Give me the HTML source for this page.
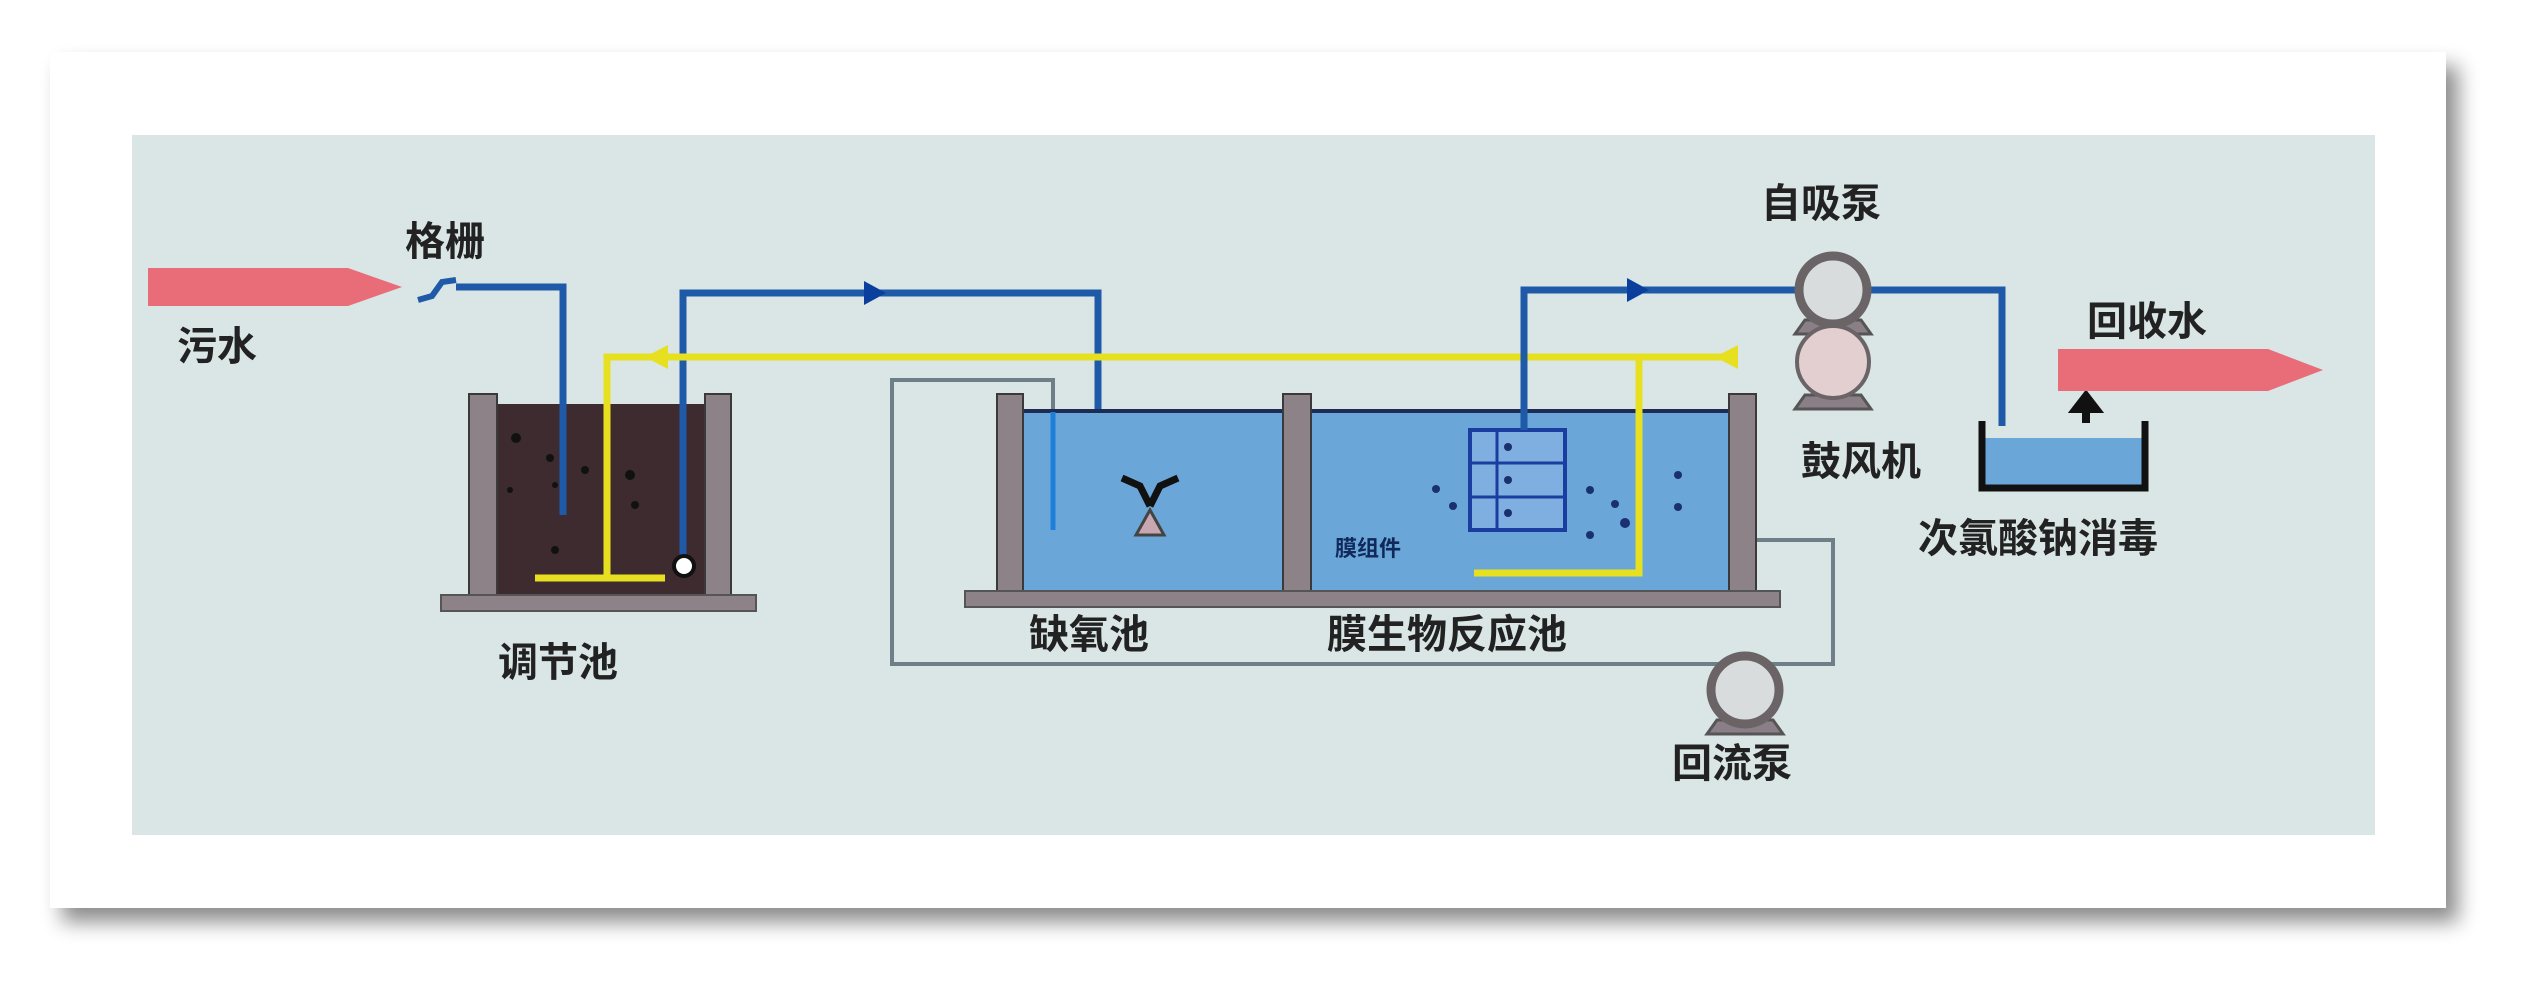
<!DOCTYPE html>
<html><head><meta charset="utf-8"><style>
html,body{margin:0;padding:0;background:#fff;}
svg{display:block}
text{font-family:"Liberation Sans","Noto Sans CJK SC",sans-serif;font-weight:bold;fill:#222}
</style></head><body>
<svg width="2522" height="988" viewBox="0 0 2522 988" xmlns="http://www.w3.org/2000/svg">
<defs>
<filter id="sh" x="-5%" y="-5%" width="110%" height="115%"><feDropShadow dx="12" dy="14" stdDeviation="10" flood-color="#000" flood-opacity="0.45"/></filter>
<g id="pump"><path d="M-28 30 L28 30 L38 44 L-38 44 Z" fill="#8a7f86" stroke="#555" stroke-width="3"/><circle r="34" fill="#d9dcdc" stroke="#6b6467" stroke-width="9"/></g>
</defs>
<rect width="2522" height="988" fill="#fff"/>
<rect x="50" y="52" width="2396" height="856" fill="#fff" filter="url(#sh)"/>
<rect x="132" y="135" width="2243" height="700" fill="#d9e6e5"/>

<path d="M148 268 L348 268 L402 287 L348 306 L148 306 Z" fill="#e86d78"/>
<text x="177" y="360" font-size="40">污水</text>
<text x="405" y="255" font-size="40">格栅</text>
<path d="M418 300 L432 296 L442 282 L456 280" stroke="#1f5aa8" stroke-width="6" fill="none"/>

<rect x="497" y="404" width="208" height="191" fill="#3d2b30"/>
<g fill="#111"><circle cx="516" cy="438" r="5"/><circle cx="550" cy="458" r="4"/><circle cx="585" cy="470" r="4"/><circle cx="630" cy="475" r="5"/><circle cx="635" cy="505" r="4"/><circle cx="510" cy="490" r="3"/><circle cx="555" cy="485" r="3"/><circle cx="555" cy="550" r="4"/></g>
<rect x="469" y="394" width="28" height="201" fill="#8e8289" stroke="#3a3a3a" stroke-width="2"/>
<rect x="705" y="394" width="26" height="201" fill="#8e8289" stroke="#3a3a3a" stroke-width="2"/>
<rect x="441" y="595" width="315" height="16" fill="#8e8289" stroke="#555" stroke-width="2"/>
<text x="498" y="676" font-size="40">调节池</text>

<path d="M456 287 L563 287 L563 515" stroke="#1f5aa8" stroke-width="7" fill="none"/>
<path d="M683 560 L683 293 L1098 293 L1098 513" stroke="#1f5aa8" stroke-width="7" fill="none"/>
<circle cx="684" cy="566" r="10" fill="#fff" stroke="#111" stroke-width="4"/>
<path d="M864 281 L886 293 L864 305 Z" fill="#0a3f9e"/>

<path d="M1736 357 L607 357 L607 576" stroke="#e6e020" stroke-width="7" fill="none"/>
<path d="M535 578 L665 578" stroke="#e6e020" stroke-width="7"/>
<path d="M668 345 L645 357 L668 369 Z" fill="#e6e020"/>
<path d="M1738 345 L1715 357 L1738 369 Z" fill="#e6e020"/>

<path d="M1053 530 L1053 380 L892 380 L892 664 L1833 664 L1833 540 L1756 540" stroke="#6f7f87" stroke-width="4" fill="none"/>

<rect x="1023" y="411" width="706" height="180" fill="#6aa6d8"/>
<path d="M1023 411 L1729 411" stroke="#1c2c55" stroke-width="4"/>
<path d="M1639 357 L1639 573 L1474 573" stroke="#e6e020" stroke-width="7" fill="none"/>
<rect x="997" y="394" width="26" height="197" fill="#8e8289" stroke="#3a3a3a" stroke-width="2"/>
<rect x="1283" y="394" width="28" height="197" fill="#8e8289" stroke="#3a3a3a" stroke-width="2"/>
<rect x="1729" y="394" width="27" height="197" fill="#8e8289" stroke="#3a3a3a" stroke-width="2"/>
<rect x="965" y="591" width="815" height="16" fill="#8e8289" stroke="#555" stroke-width="2"/>
<path d="M1053 412 L1053 530" stroke="#1f7fd8" stroke-width="5"/>
<path d="M1122 478 L1140 486 L1150 506 M1178 478 L1160 486 L1150 506" stroke="#111" stroke-width="7" fill="none"/>
<path d="M1136 535 L1150 510 L1164 535 Z" fill="#c9a7b0" stroke="#444" stroke-width="3"/>
<rect x="1470" y="430" width="95" height="100" fill="#7faee0" stroke="#1a3ea0" stroke-width="4"/>
<path d="M1497 430 L1497 530 M1470 463 L1565 463 M1470 497 L1565 497" stroke="#1a3ea0" stroke-width="3"/>
<g fill="#1a3070"><circle cx="1508" cy="447" r="4"/><circle cx="1508" cy="480" r="4"/><circle cx="1508" cy="513" r="4"/><circle cx="1436" cy="489" r="4"/><circle cx="1453" cy="506" r="4"/><circle cx="1590" cy="490" r="4"/><circle cx="1615" cy="504" r="4"/><circle cx="1625" cy="523" r="5"/><circle cx="1678" cy="475" r="4"/><circle cx="1678" cy="507" r="4"/><circle cx="1590" cy="535" r="4"/></g>
<text x="1335" y="556" font-size="22" style="fill:#10285a">膜组件</text>
<text x="1029" y="648" font-size="40">缺氧池</text>
<text x="1327" y="648" font-size="40">膜生物反应池</text>

<path d="M1524 430 L1524 290 L2002 290 L2002 426" stroke="#1f5aa8" stroke-width="7" fill="none"/>
<path d="M1627 278 L1649 290 L1627 302 Z" fill="#0a3f9e"/>
<use href="#pump" x="1833" y="290"/>
<text x="1761" y="217" font-size="40">自吸泵</text>
<path d="M1805 395 L1861 395 L1871 409 L1795 409 Z" fill="#8a7f86" stroke="#555" stroke-width="3"/>
<circle cx="1833" cy="362" r="36" fill="#e3cfcf" stroke="#6b6467" stroke-width="4"/>
<text x="1801" y="475" font-size="40">鼓风机</text>

<rect x="1982" y="438" width="163" height="50" fill="#6aa6d8"/>
<path d="M1982 421 L1982 488 L2145 488 L2145 421" stroke="#111" stroke-width="7" fill="none"/>
<path d="M2086 423 L2086 407 M2076 409 L2086 396 L2096 409 Z" stroke="#111" stroke-width="8" fill="#111"/>
<text x="1918" y="552" font-size="40">次氯酸钠消毒</text>
<text x="2087" y="335" font-size="40">回收水</text>
<path d="M2058 349 L2268 349 L2323 370 L2268 391 L2058 391 Z" fill="#e86d78"/>

<use href="#pump" x="1745" y="690"/>
<text x="1672" y="777" font-size="40">回流泵</text>
</svg>
</body></html>
